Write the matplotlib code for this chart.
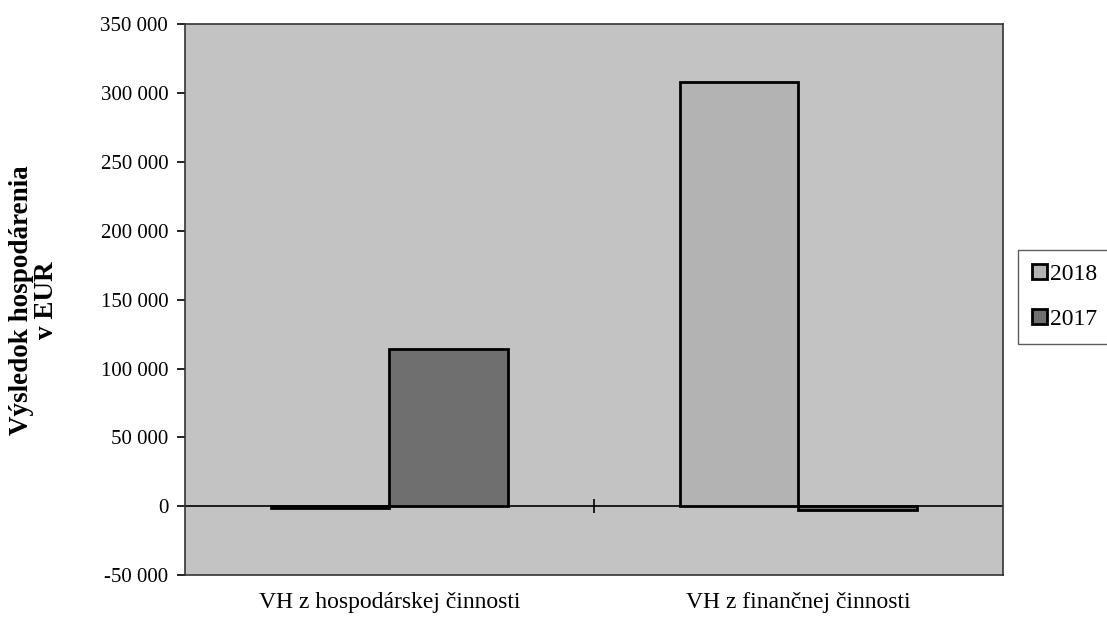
import matplotlib.pyplot as plt
import matplotlib.ticker as mticker
import numpy as np

categories = ["VH z hospodárskej činnosti", "VH z finančnej činnosti"]
series_names = ["2018", "2017"]
values_2018 = [-1500, 308000]
values_2017 = [114000, -2500]

plt.rcParams['font.family'] = ['Liberation Serif', 'DejaVu Serif']

fig = plt.figure(figsize=(11.07, 6.27), dpi=100)
ax = fig.add_axes([0.167, 0.083, 0.739, 0.878])
ax.set_facecolor('#c3c3c3')

x = np.arange(len(categories))
w = 0.29
ax.bar(x - w / 2, values_2018, w, color='#b3b3b3', edgecolor='black', linewidth=2, label=series_names[0], zorder=3)
ax.bar(x + w / 2, values_2017, w, color='#6f6f6f', edgecolor='black', linewidth=2, label=series_names[1], zorder=3)

ax.set_xlim(-0.5, 1.5)
ax.set_ylim(-50000, 350000)
ax.yaxis.set_major_locator(mticker.MultipleLocator(50000))
ax.yaxis.set_major_formatter(mticker.FuncFormatter(lambda v, p: f"{int(v):,}".replace(",", " ")))
ax.tick_params(axis='y', labelsize=15, length=6, width=1.2, direction='out', pad=6)
ax.set_xticks(x)
ax.set_xticklabels(categories, fontsize=17)
ax.tick_params(axis='x', length=0, pad=12)
for s in ax.spines.values():
    s.set_linewidth(1.2)
    s.set_color('#333333')

# category axis crossing at zero
ax.axhline(0, color='black', linewidth=1.2, zorder=2)
sec = ax.secondary_xaxis(50000 / 400000)
sec.set_xticks([0.5])
sec.set_xticklabels([])
sec.tick_params(direction='inout', length=10, width=1.2)
sec.spines['bottom'].set_visible(False)

ax.set_ylabel("Výsledok hospodárenia\nv EUR", fontsize=19.5, fontweight='bold', labelpad=30, linespacing=1.0)

leg = ax.legend(loc='center left', bbox_to_anchor=(1.01, 0.505), fontsize=17, frameon=True,
                fancybox=False, edgecolor='#333333', handlelength=0.6, handleheight=0.6,
                handletextpad=0.15, borderpad=0.6, borderaxespad=0.3, labelspacing=1.0)
leg.get_frame().set_linewidth(1.0)

fig.savefig("out.png", dpi=100)
